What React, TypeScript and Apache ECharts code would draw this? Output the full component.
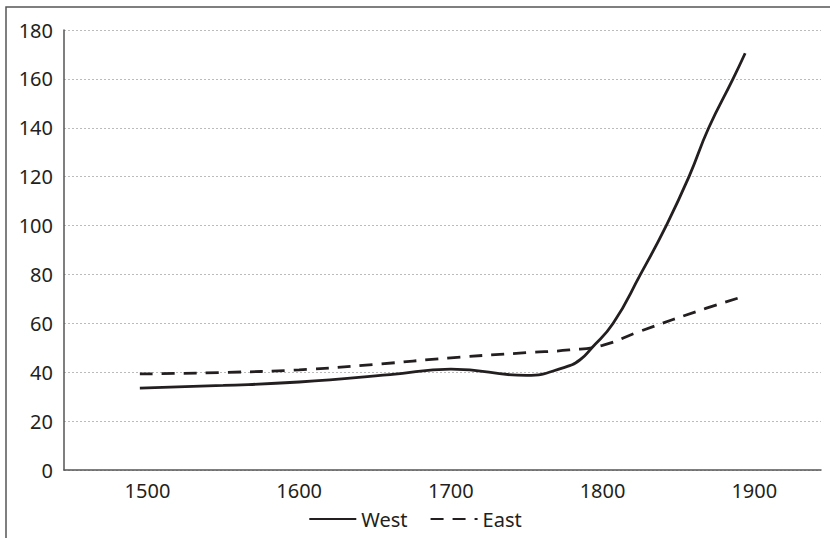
import React, { useEffect, useRef } from "react";
import * as echarts from "echarts";

const xTicks = [1500, 1600, 1700, 1800, 1900];
const yTicks = [0, 20, 40, 60, 80, 100, 120, 140, 160, 180];

const westYears = [1495, 1550, 1600, 1660, 1700, 1750, 1775, 1785, 1793, 1807, 1825, 1842, 1857, 1870, 1886, 1894];
const westValues = [33.5, 34.6, 36, 39, 41.3, 38.7, 42, 45, 50, 60, 80, 100, 120, 140, 160, 170.5];

const eastYears = [1495, 1550, 1600, 1650, 1700, 1750, 1778, 1800, 1824, 1868, 1894];
const eastValues = [39.3, 39.9, 41, 43.2, 45.9, 48, 49.1, 51, 56.6, 66.1, 71.2];

export default function App() {
  const ref = useRef<HTMLDivElement>(null);
  useEffect(() => {
    if (!ref.current) return;
    const chart = echarts.init(ref.current, null, { renderer: "svg" });
    const font = "Noto Sans";
    chart.setOption({
      animation: false,
      backgroundColor: "#fff",
      textStyle: { fontFamily: font },
      grid: { left: 64, right: 9, top: 30, bottom: 68 },
      graphic: [
        {
          type: "rect",
          shape: { x: 6, y: 7, width: 840, height: 560 },
          style: { fill: "none", stroke: "#555", lineWidth: 1.5 },
          silent: true,
        },
      ],
      legend: {
        bottom: 4,
        left: "center",
        itemWidth: 47,
        itemHeight: 14,
        itemGap: 22,
        itemStyle: { opacity: 0 },
        textStyle: { fontFamily: font, fontSize: 20, color: "#231f20" },
        data: ["West", "East"],
      },
      xAxis: {
        type: "value",
        min: 1445,
        max: 1944,
        splitLine: { show: false },
        axisTick: { show: false },
        axisLine: { show: true, lineStyle: { color: "#555", width: 1.5 } },
        axisLabel: {
          customValues: xTicks,
          fontSize: 20,
          color: "#231f20",
          margin: 10,
          fontFamily: font,
          formatter: (v: number) => String(v),
        },
      },
      yAxis: {
        type: "value",
        min: 0,
        max: 180,
        interval: 20,
        axisTick: { show: false },
        axisLine: { show: true, lineStyle: { color: "#555", width: 1.5 } },
        splitLine: { show: true, lineStyle: { color: "#bbb", type: [2, 2], width: 1 } },
        axisLabel: {
          fontSize: 20,
          color: "#231f20",
          margin: 11,
          fontFamily: font,
          formatter: (v: number) => (yTicks.includes(v) ? String(v) : ""),
        },
      },
      series: [
        {
          name: "West",
          type: "line",
          smooth: 0.5,
          symbol: "none",
          data: westYears.map((y, i) => [y, westValues[i]]),
          lineStyle: { color: "#231f20", width: 2.8 },
          itemStyle: { color: "#231f20" },
        },
        {
          name: "East",
          type: "line",
          smooth: 0.5,
          symbol: "none",
          data: eastYears.map((y, i) => [y, eastValues[i]]),
          lineStyle: { color: "#231f20", width: 2.8, type: [13, 9] },
          itemStyle: { color: "#231f20" },
        },
      ],
    });
    return () => chart.dispose();
  }, []);
  return (
    <div
      ref={ref}
      style={{ position: "fixed", left: 0, top: 0, width: 830, height: 538 }}
    />
  );
}
